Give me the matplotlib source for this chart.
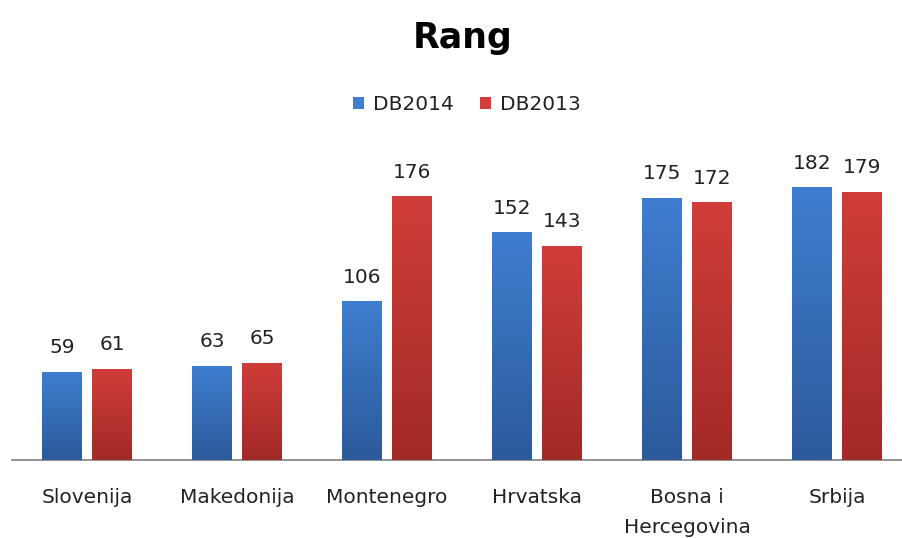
import matplotlib
matplotlib.use("Agg")
import matplotlib.pyplot as plt
import numpy as np
from matplotlib.colors import LinearSegmentedColormap
from matplotlib.patches import Patch
import matplotlib.transforms as mtrans

categories = ["Slovenija", "Makedonija", "Montenegro", "Hrvatska", "Bosna i\nHercegovina", "Srbija"]
db2014 = [59, 63, 106, 152, 175, 182]
db2013 = [61, 65, 176, 143, 172, 179]
series_names = ["DB2014", "DB2013"]
title = "Rang"

plt.rcParams["font.family"] = ["DejaVu Sans"]
TXT = "#222222"

W, H = 902, 538
fig = plt.figure(figsize=(W / 100, H / 100), dpi=100)
fig.patch.set_facecolor("white")

# axes: baseline at y=460px, top at 130px; x from 12px to 902px
ax_left, ax_right = 12, 902
ax_bottom_px, ax_top_px = 460, 130
ax = fig.add_axes([ax_left / W, (H - ax_bottom_px) / H,
                   (ax_right - ax_left) / W, (ax_bottom_px - ax_top_px) / H])
px_per_cat = 150.0
XL = (-0.5, -0.5 + (ax_right - ax_left) / px_per_cat)
YL = (0, (ax_bottom_px - ax_top_px) / 1.5)

x = np.arange(len(categories))
bw = 40 / px_per_cat
off = 25 / px_per_cat

blue_top, blue_bot = "#3F7ED0", "#2C5A9B"
red_top, red_bot = "#D03D3A", "#A22A27"

b1 = ax.bar(x - off, db2014, width=bw, color=blue_top, zorder=2)
b2 = ax.bar(x + off, db2013, width=bw, color=red_top, zorder=2)

grad = np.linspace(1, 0, 256).reshape(-1, 1)
for bars, top, bot in ((b1, blue_top, blue_bot), (b2, red_top, red_bot)):
    cmap = LinearSegmentedColormap.from_list("g", [bot, top])
    for r in bars:
        x0, y0 = r.get_x(), r.get_y()
        w, h = r.get_width(), r.get_height()
        im = ax.imshow(grad, cmap=cmap, aspect="auto", extent=(x0, x0 + w, y0, y0 + h),
                       zorder=3, interpolation="bilinear", vmin=0, vmax=1)
        im.set_clip_path(r)

ax.set_xlim(*XL)
ax.set_ylim(*YL)

# value labels
for bars, vals in ((b1, db2014), (b2, db2013)):
    for r, v in zip(bars, vals):
        ax.annotate(str(v), (r.get_x() + r.get_width() / 2, v), xytext=(0, 13),
                    textcoords="offset points", ha="center", va="baseline",
                    fontsize=14.5, color=TXT)

for s in ("top", "right", "left"):
    ax.spines[s].set_visible(False)
ax.spines["bottom"].set_color("#808080")
ax.spines["bottom"].set_linewidth(1.2)
ax.set_yticks([])
ax.set_xticks([])

# category labels
trans = mtrans.blended_transform_factory(ax.transData, fig.transFigure)
for xi, c in zip(x, categories):
    for i, line in enumerate(c.split("\n")):
        ax.text(xi, (H - 503 - 30 * i) / H, line, transform=trans, ha="center",
                va="baseline", fontsize=14.5, color=TXT)

# title
fig.text(463 / W, (H - 48) / H, title, ha="center", va="baseline",
         fontsize=25, fontweight="bold", color="black")

# legend
handles = [Patch(facecolor=blue_top, edgecolor="none"),
           Patch(facecolor=red_top, edgecolor="none")]
fig.legend(handles, series_names, loc="center", bbox_to_anchor=(467 / W, (H - 105) / H),
           ncol=2, frameon=False, fontsize=14.5, handlelength=0.55, handleheight=0.55,
           handletextpad=0.45, columnspacing=1.3, labelcolor=TXT)

fig.savefig("out.png", dpi=100, facecolor="white")
